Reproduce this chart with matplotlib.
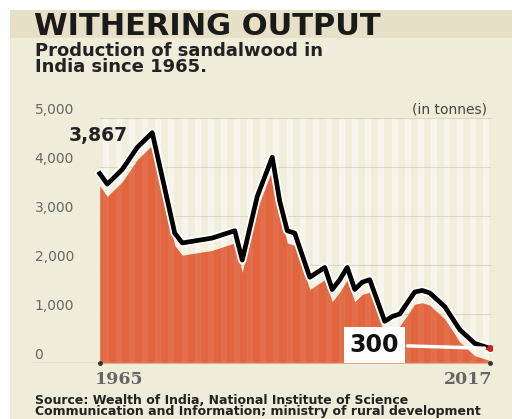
import matplotlib
matplotlib.use('Agg')
import matplotlib.pyplot as plt
import matplotlib.patheffects as pe
import numpy as np

# production of sandalwood in India (tonnes)
years = [1965, 1966, 1968, 1970, 1972, 1975, 1976, 1978, 1980, 1983, 1984,
         1986, 1988, 1989, 1990, 1991, 1993, 1994, 1995, 1996, 1997, 1998,
         1999, 2000, 2001, 2003, 2004, 2005, 2007, 2008, 2009, 2011, 2013,
         2015, 2017]
production = [3867, 3650, 3950, 4400, 4700, 2650, 2450, 2500, 2550, 2700, 2100,
              3400, 4200, 3300, 2700, 2650, 1750, 1850, 1950, 1500, 1700, 1950,
              1500, 1650, 1700, 850, 950, 1000, 1450, 1480, 1430, 1150, 680,
              400, 300]
y_ticks = [0, 1000, 2000, 3000, 4000, 5000]

BG = '#efecd9'
BAND = '#e6e1c6'
PLOT_BG = '#f1eedd'
FILL = '#e1663f'

fig = plt.figure(figsize=(5.12, 4.19), dpi=100)
fig.patch.set_facecolor('white')

# cream background panel and title band
fig.patches.append(plt.Rectangle((10 / 512, 0), 1, 1 - 10 / 419, transform=fig.transFigure,
                                 facecolor=BG, edgecolor='none', zorder=-10))
fig.patches.append(plt.Rectangle((10 / 512, 1 - 38 / 419), 1, 28 / 419, transform=fig.transFigure,
                                 facecolor=BAND, edgecolor='none', zorder=-9))

fig.text(34 / 512, 1 - 35 / 419, 'WITHERING OUTPUT', fontsize=22, fontweight='bold',
         color='#1a1a1a', va='baseline', ha='left', family='DejaVu Sans')
fig.text(35 / 512, 1 - 59 / 419, 'Production of sandalwood in\nIndia since 1965.',
         fontsize=13, color='#222222', va='center', ha='left', linespacing=0.92,
         family='DejaVu Sans', fontweight='bold')
fig.text(35 / 512, 1 - 406 / 419,
         'Source: Wealth of India, National Institute of Science\n'
         'Communication and Information; ministry of rural development',
         fontsize=9, color='#222222', va='center', ha='left', linespacing=0.85,
         family='DejaVu Sans', fontweight='bold')

ax = fig.add_axes([33 / 512, 1 - 363 / 419, 459 / 512, 245 / 419])
ax.set_facecolor('none')
x0, x1 = 1956.1, 2017.3
ax.set_xlim(x0, x1)
ax.set_ylim(0, 5000)
for s in ax.spines.values():
    s.set_visible(False)
ax.set_xticks([])
ax.set_yticks([])

stripes = np.arange(years[0] + 0.4, years[-1] - 0.5, 1.75)

# striped plot background
ax.axvspan(years[0], years[-1], color=PLOT_BG, lw=0, zorder=0)
for xs in stripes:
    ax.axvspan(xs, xs + 0.8, color='#f7f5ea', lw=0, zorder=0.1)

# gridlines and tick labels
for t in y_ticks:
    ax.plot([years[0], years[-1]], [t, t], color='#d9d5c0', lw=0.8, zorder=0.5)
    ax.text(x0 + 0.2, t + 170, f'{t:,}', fontsize=10, color='#666666', ha='left', va='center',
            family='DejaVu Sans')
ax.axhline(0, color='#b8b4a3', lw=1, zorder=5)

# filled area (sits a little below the line, like the original)
fill_top = np.clip(np.array(production) - 250, 0, None)
ax.fill_between(years, 0, fill_top, color=FILL, lw=0, zorder=1)
for xs in stripes:
    ax.axvspan(xs, xs + 0.8, color='white', alpha=0.06, lw=0, zorder=1.1)

ax.plot(years, production, color='black', lw=3.4, zorder=6, solid_joinstyle='round',
        path_effects=[pe.Stroke(linewidth=6, foreground='white'), pe.Normal()])
ax.plot(years[-1], production[-1], 'o', color='#d0202a', ms=4, zorder=7)
ax.plot([years[0], years[-1]], [0, 0], 'o', color='#333333', ms=2.5, zorder=7, clip_on=False)

ax.text(1968.7, 4650, f'{production[0]:,}', fontsize=13.5,
        fontweight='bold', color='#222222', ha='right', va='center', zorder=8)
ax.annotate(f'{production[-1]:,}', xy=(years[-1] - 0.3, production[-1]),
            xytext=(2001.6, 370), fontsize=17, fontweight='bold',
            color='#111111', ha='center', va='center', zorder=8,
            bbox=dict(boxstyle='square,pad=0.25', fc='white', ec='none'),
            arrowprops=dict(arrowstyle='-', color='white', lw=2.5))

ax.text(years[0] - 0.6, -170, str(years[0]), fontsize=12.5, color='#666666', ha='left', va='top',
        family='DejaVu Serif', fontweight='bold')
ax.text(years[-1] + 0.3, -170, str(years[-1]), fontsize=12.5, color='#666666', ha='right', va='top',
        family='DejaVu Serif', fontweight='bold')
ax.text(years[-1] - 0.4, 5000 + 170, '(in tonnes)', fontsize=10, color='#444444',
        ha='right', va='center')

fig.savefig('out.png', dpi=100, facecolor=fig.get_facecolor())
